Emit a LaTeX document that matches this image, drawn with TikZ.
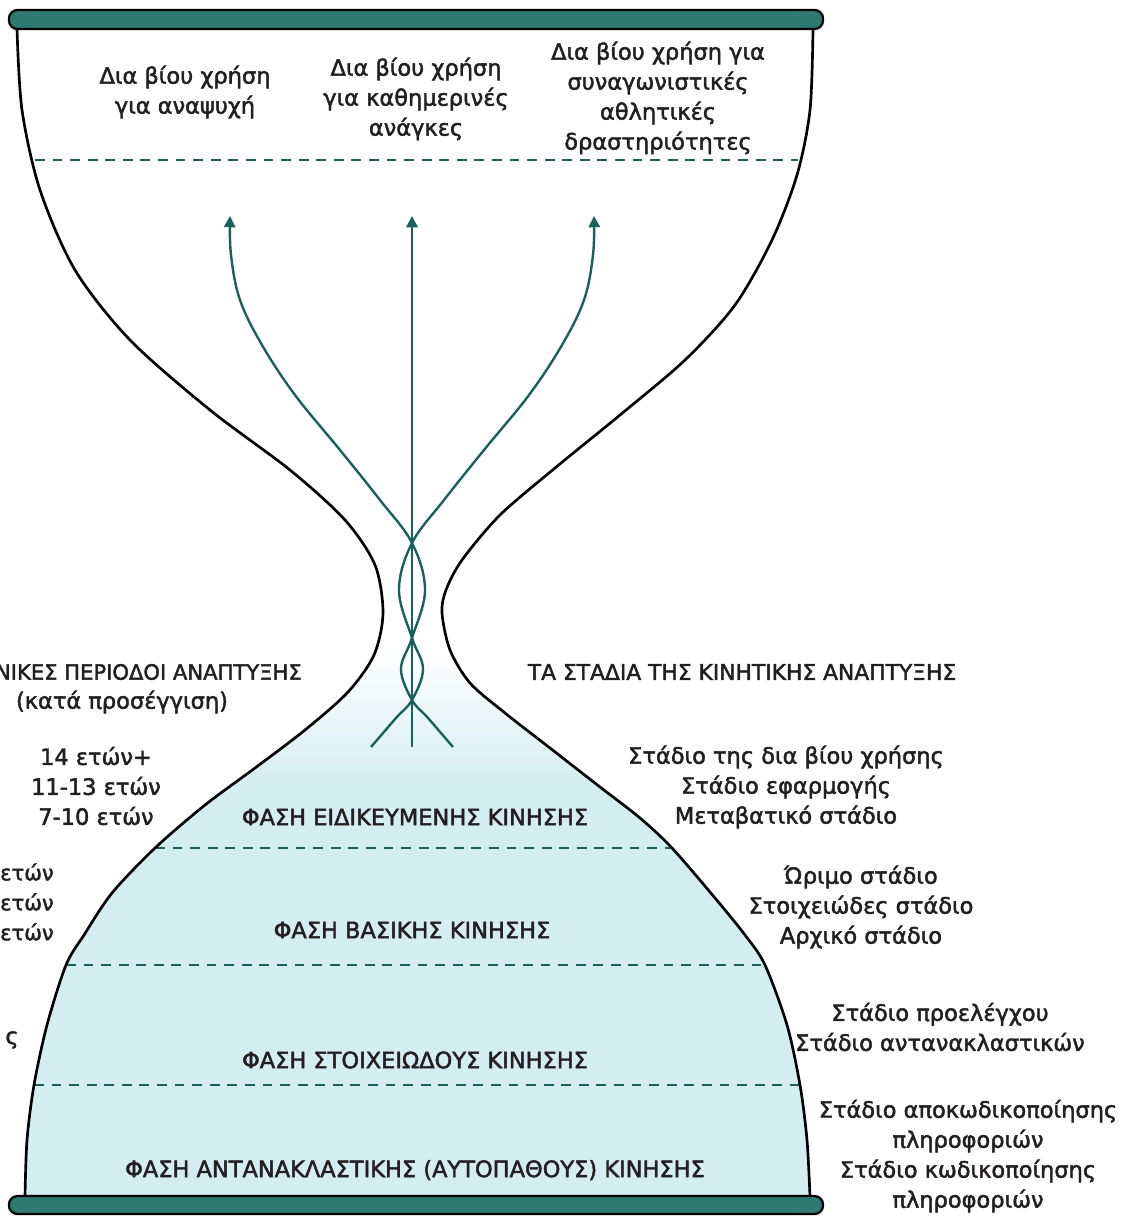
\documentclass[tikz,border=0pt]{standalone}
\usepackage{fontspec}
\setmainfont{DejaVu Sans}
\newfontfamily\labelfont{DejaVu Sans}[FakeBold=2]
\usetikzlibrary{arrows.meta}

\definecolor{barteal}{RGB}{44,122,112}
\definecolor{darkteal}{RGB}{26,96,92}
\definecolor{paleaqua}{RGB}{212,237,240}
\definecolor{inkgray}{RGB}{35,31,32}

\pgfdeclareverticalshading{bulbfade}{100bp}{color(0bp)=(paleaqua); color(60bp)=(paleaqua); color(72bp)=(white); color(100bp)=(white)}

\begin{document}
\begin{tikzpicture}[x=0.025cm, y=-0.025cm,
		outline/.style={line width=1.9pt, line join=round},
		sep/.style={darkteal, line width=2pt, dash pattern=on 7pt off 5.5pt},
		strand/.style={darkteal, line width=1.7pt},
		tip/.style={-{Triangle[width=8pt,length=8pt]}},
		bar/.style={fill=barteal, draw=black, line width=1.6pt, rounded corners=6pt},
		txt/.style={align=center, inner sep=0pt, text=inkgray, font=\labelfont\fontsize{16}{21.3}\selectfont},
		head/.style={txt, font=\labelfont\fontsize{15.5}{21.3}\selectfont},
		edge/.style={txt, font=\labelfont\fontsize{15}{21.3}\selectfont},
		phase/.style={txt}]
		\useasboundingbox (0,0) rectangle (1138,1216);
		
		\shade[shading=bulbfade] plot[smooth] coordinates {(383,613) (374,655) (348,692) (305,730) (255,768) (205,805) (155,848) (112,893) (84,935) (66,965) (47,1025) (34,1085) (27,1140) (25,1197)}
			-- plot[smooth] coordinates {(810,1197) (807,1140) (800,1085) (787,1025) (765,965) (745,935) (715,898) (672,848) (640,818) (600,787) (550,748) (505,713) (470,683) (450,650) (442,613)} -- cycle;
		
		\draw[sep] (35,160) -- (798,160);
		\draw[sep] (155,848) -- (672,848);
		\draw[sep] (66,965) -- (765,965);
		\draw[sep] (34,1085) -- (800,1085);
		
		\draw[outline] plot[smooth] coordinates {(17,29) (22,110) (40,190) (75,270) (130,340) (210,410) (290,470) (345,520) (375,565) (383,613) (374,655) (348,692) (305,730) (255,768) (205,805) (155,848) (112,893) (84,935) (66,965) (47,1025) (34,1085) (27,1140) (25,1197)};
		\draw[outline] plot[smooth] coordinates {(813,29) (810,110) (797,175) (772,240) (735,305) (685,360) (620,415) (555,468) (500,515) (462,560) (446,590) (442,613) (450,650) (470,683) (505,713) (550,748) (600,787) (640,818) (672,848) (715,898) (745,935) (765,965) (787,1025) (800,1085) (807,1140) (810,1197)};
		
		\draw[bar] (9,10) rectangle (823,29);
		\draw[bar] (9,1196) rectangle (823,1214);
		
		\draw[strand, tip] (412,747) -- (412,216);
		\draw[strand, tip] plot[smooth, tension=0.6] coordinates {(453,747) (428,718) (412,700) (401,669) (412,638) (425,590) (412,543) (380,500) (340,450) (295,395) (262,345) (240,300) (231,255) (230,216)};
		\draw[strand, tip] plot[smooth, tension=0.6] coordinates {(371,747) (396,718) (412,700) (423,669) (412,638) (399,590) (412,543) (444,500) (484,450) (529,395) (562,345) (584,300) (593,255) (594,216)};
		
		\node[txt] (leisure) at (185,92) {Δια βίου χρήση\\για αναψυχή};
		\node[txt] (daily) at (416,99) {Δια βίου χρήση\\για καθημερινές\\ανάγκες};
		\node[txt] (sport) at (658,98) {Δια βίου χρήση για\\συναγωνιστικές\\αθλητικές\\δραστηριότητες};
		
		\node[edge, anchor=east] (periods) at (302,672) {ΝΙΚΕΣ ΠΕΡΙΟΔΟΙ ΑΝΑΠΤΥΞΗΣ};
		\node[txt] (approx) at (122,702) {(κατά προσέγγιση)};
		\node[txt] (agesup) at (96,786) {14 ετών+\\11-13 ετών\\7-10 ετών};
		\node[edge, anchor=east] (agesmid) at (54,902) {ετών\\ετών\\ετών};
		\node[txt] (agesend) at (12,1040) {ς};
		
		\node[head] (stagehead) at (742,672) {ΤΑ ΣΤΑΔΙΑ ΤΗΣ ΚΙΝΗΤΙΚΗΣ ΑΝΑΠΤΥΞΗΣ};
		\node[txt] (stagesup) at (786,787) {Στάδιο της δια βίου χρήσης\\Στάδιο εφαρμογής\\Μεταβατικό στάδιο};
		\node[txt] (stagesbasic) at (861,907) {Ώριμο στάδιο\\Στοιχειώδες στάδιο\\Αρχικό στάδιο};
		\node[txt] (stagesrudim) at (940,1027) {Στάδιο προελέγχου\\Στάδιο αντανακλαστικών};
		\node[txt] (stagesreflex) at (968,1156) {Στάδιο αποκωδικοποίησης\\πληροφοριών\\Στάδιο κωδικοποίησης\\πληροφοριών};
		
		\node[phase] (specialized) at (415,817) {ΦΑΣΗ ΕΙΔΙΚΕΥΜΕΝΗΣ ΚΙΝΗΣΗΣ};
		\node[phase] (basic) at (412,930) {ΦΑΣΗ ΒΑΣΙΚΗΣ ΚΙΝΗΣΗΣ};
		\node[phase] (rudimentary) at (415,1060) {ΦΑΣΗ ΣΤΟΙΧΕΙΩΔΟΥΣ ΚΙΝΗΣΗΣ};
		\node[phase] (reflexive) at (415,1170) {ΦΑΣΗ ΑΝΤΑΝΑΚΛΑΣΤΙΚΗΣ (ΑΥΤΟΠΑΘΟΥΣ) ΚΙΝΗΣΗΣ};
	\end{tikzpicture}
\end{document}
